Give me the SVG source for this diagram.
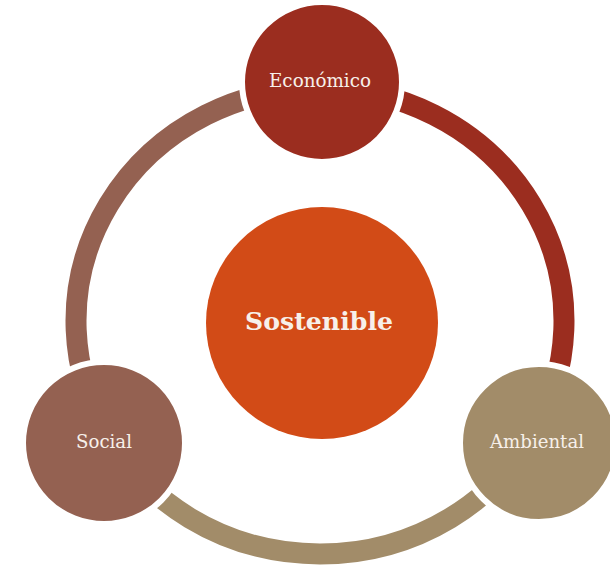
<svg xmlns="http://www.w3.org/2000/svg" width="610" height="571" viewBox="0 0 610 571">
<style>
.arc{fill:none;stroke-width:21}
.node{stroke:#ffffff;stroke-width:6}
.lbl{font-family:"DejaVu Serif","Liberation Serif",serif;fill:#F7F0EA;text-anchor:middle}
</style>
<rect width="610" height="571" fill="#ffffff"/>
<g id="connectors">
<path class="arc" stroke="#9B2D1F" d="M320,88 A244,233 0 0 1 531.3,437.5"/>
<path class="arc" stroke="#A28C69" d="M531.3,437.5 A244,233 0 0 1 108.7,437.5"/>
<path class="arc" stroke="#946151" d="M108.7,437.5 A244,233 0 0 1 320,88"/>
</g>
<g id="sostenible">
<circle cx="322" cy="323" r="116" fill="#D24B17"/>
<text class="lbl" x="319" y="330" font-size="25" font-weight="bold" textLength="148" lengthAdjust="spacingAndGlyphs">Sostenible</text>
</g>
<g id="economico">
<circle class="node" cx="322" cy="82" r="80" fill="#9B2D1F"/>
<text class="lbl" x="320" y="87" font-size="18" textLength="102" lengthAdjust="spacingAndGlyphs">Económico</text>
</g>
<g id="social">
<circle class="node" cx="104" cy="443" r="81" fill="#946151"/>
<text class="lbl" x="104" y="448" font-size="18" textLength="56" lengthAdjust="spacingAndGlyphs">Social</text>
</g>
<g id="ambiental">
<circle class="node" cx="539" cy="443" r="79" fill="#A28C69"/>
<text class="lbl" x="537" y="448" font-size="18" textLength="94" lengthAdjust="spacingAndGlyphs">Ambiental</text>
</g>
</svg>
